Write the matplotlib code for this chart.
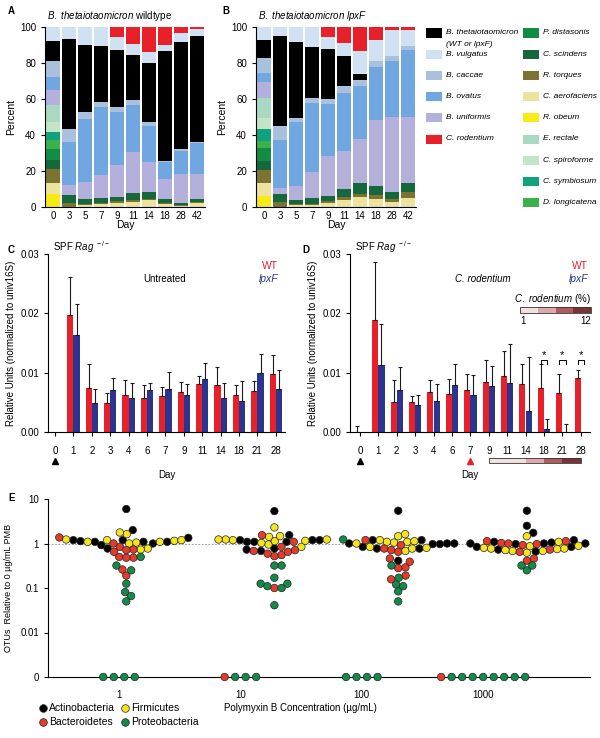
import numpy as np
import matplotlib.pyplot as plt
from matplotlib.patches import Rectangle
from matplotlib.lines import Line2D

# ---- panel A/B: relative abundance (%) per day ----
days_ab = [0, 3, 5, 7, 9, 11, 14, 18, 28, 42]

wt_obeum = [7.4, 0, 0, 0, 0, 0, 0, 0, 0, 0]
wt_aerofaciens = [6.2, 0, 1.3, 1.5, 2.2, 2.8, 3.7, 1.5, 0.7, 2.0]
wt_torques = [7.4, 2.2, 0.6, 0.7, 1.0, 1.3, 0.9, 0.9, 0.6, 1.0]
wt_scindens = [5.0, 4.7, 2.7, 3.0, 2.4, 3.9, 3.8, 1.9, 0.9, 1.5]
wt_distasonis = [6.5, 0, 0, 0, 0, 0, 0, 0, 0, 0]
wt_longicatena = [4.7, 0, 0, 0, 0, 0, 0, 0, 0, 0]
wt_symbiosum = [4.6, 0, 0, 0, 0, 0, 0, 0, 0, 0]
wt_spiroforme = [5.2, 0, 0, 0, 0, 0, 0, 0, 0, 0]
wt_rectale = [9.7, 0, 0, 0, 0, 0, 0, 0, 0, 0]
wt_uniformis = [8.4, 5.2, 9.3, 12.8, 17.6, 22.3, 16.7, 11.1, 16.4, 14.1]
wt_ovatus = [7.0, 24.2, 35.0, 37.4, 29.8, 26.4, 19.9, 9.7, 12.6, 16.8]
wt_caccae = [8.8, 6.9, 4.1, 3.2, 2.8, 2.8, 2.4, 0.3, 0.8, 0.5]
wt_theta = [11.1, 49.9, 37.2, 31.0, 31.6, 25.1, 32.5, 61.5, 59.4, 59.0]
wt_vulgatus = [8.0, 6.9, 9.8, 10.4, 7.0, 5.9, 6.0, 3.2, 5.3, 4.2]
wt_rodentium = [0, 0, 0, 0, 5.6, 9.5, 14.1, 9.9, 3.3, 0.9]

lpx_obeum = [6.1, 0, 0, 0, 0, 0, 0, 0, 0, 0]
lpx_aerofaciens = [7.5, 0, 0.9, 0.9, 2.4, 4.1, 5.6, 4.7, 2.8, 4.8]
lpx_torques = [6.9, 2.8, 0.6, 1.0, 0.8, 1.5, 1.8, 1.8, 1.9, 3.3]
lpx_scindens = [5.2, 4.3, 2.6, 3.1, 2.9, 4.6, 6.2, 5.2, 3.7, 5.0]
lpx_distasonis = [6.9, 0, 0, 0, 0, 0, 0, 0, 0, 0]
lpx_longicatena = [4.1, 0, 0, 0, 0, 0, 0, 0, 0, 0]
lpx_symbiosum = [6.5, 0, 0, 0, 0, 0, 0, 0, 0, 0]
lpx_spiroforme = [6.0, 0, 0, 0, 0, 0, 0, 0, 0, 0]
lpx_rectale = [11.1, 0, 0, 0, 0, 0, 0, 0, 0, 0]
lpx_uniformis = [8.9, 3.7, 7.6, 14.5, 22.2, 20.9, 24.2, 36.7, 41.8, 37.1]
lpx_ovatus = [5.2, 26.4, 35.6, 38.2, 29.0, 32.2, 29.2, 29.2, 31.1, 37.0]
lpx_caccae = [8.4, 7.8, 2.4, 3.1, 2.8, 3.7, 3.7, 3.3, 2.8, 2.4]
lpx_theta = [9.8, 49.9, 42.0, 27.9, 27.7, 16.7, 3.2, 0.4, 0, 0]
lpx_vulgatus = [7.4, 5.1, 8.3, 11.3, 6.7, 7.5, 12.6, 11.7, 14.5, 8.7]
lpx_rodentium = [0, 0, 0, 0, 5.5, 8.8, 13.5, 7.0, 1.4, 1.7]

# ---- panel C/D: qPCR relative units ----
days_q = [0, 1, 2, 3, 4, 6, 7, 9, 11, 14, 18, 21, 28]
wt_c = [0, 0.0198, 0.0074, 0.0049, 0.0063, 0.0058, 0.0060, 0.0067, 0.0081, 0.0080, 0.0062, 0.0069, 0.0098]
wt_c_err = [0, 0.0064, 0.0041, 0.0017, 0.0024, 0.0021, 0.0016, 0.0017, 0.0013, 0.0029, 0.0017, 0.0017, 0.0032]
lpx_c = [0, 0.0164, 0.0049, 0.0071, 0.0057, 0.0070, 0.0073, 0.0063, 0.0090, 0.0058, 0.0053, 0.0099, 0.0072]
lpx_c_err = [0, 0.0052, 0.0023, 0.0020, 0.0025, 0.0012, 0.0028, 0.0018, 0.0026, 0.0024, 0.0033, 0.0033, 0.0033]
wt_d = [0, 0.0189, 0.0050, 0.0050, 0.0068, 0.0064, 0.0070, 0.0085, 0.0095, 0.0081, 0.0075, 0.0066, 0.0091]
wt_d_err = [0.0010, 0.0098, 0.0037, 0.0010, 0.0019, 0.0025, 0.0028, 0.0037, 0.0041, 0.0033, 0.0040, 0.0032, 0.0014]
lpx_d = [0, 0.0113, 0.0071, 0.0046, 0.0053, 0.0080, 0.0063, 0.0077, 0.0082, 0.0036, 0.0005, 0.0, 0.0]
lpx_d_err = [0, 0.0069, 0.0039, 0.0016, 0.0028, 0.0034, 0.0033, 0.0035, 0.0067, 0.0090, 0.0017, 0.0014, 0]
sig_days = [18, 21, 28]
strip_days = [9, 14, 18, 21, 28]

# ---- panel E: OTU fold change vs 0 ug/mL PMB ----
pmb_conc = ['1', '10', '100', '1000']
act = [[1.0, 1.19, 1.09, 1.34, 1.09, 2.0, 5.95, 0.77, 1.19, 0.92, 1.09, 1.13],
       [1.19, 1.19, 1.09, 0.77, 1.19, 0.73, 5.35, 1.54, 1.09, 0.68, 1.09],
       [1.0, 0.84, 0.77, 0.41, 1.19, 5.45, 0.97, 1.0, 1.19, 0.77, 1.0, 0.97],
       [1.0, 1.0, 1.74, 1.19, 5.45, 2.5, 1.09, 1.0, 0.97, 0.84, 0.84, 1.05, 0.66, 0.73]]
fir = [[1.05, 1.19, 1.09, 1.62, 1.77, 1.09, 0.77, 1.23, 0.73, 1.15, 1.19, 1.0],
       [1.41, 0.95, 1.13, 0.84, 1.19, 2.3, 1.23, 1.03, 1.15, 1.23, 1.23, 1.46],
       [1.05, 0.84, 1.09, 1.13, 0.80, 1.0, 0.68, 1.46, 1.62, 0.77, 1.09, 1.19],
       [0.87, 0.68, 0.89, 0.77, 1.09, 0.77, 0.68, 1.46, 0.80, 0.75, 0.62, 0.71]]
bac = [[0.84, 1.0, 1.37, 0.73, 0.50, 0.65, 0.48, 0.26, 0.19, 0.48, 0.71],
       [0.68, 0.71, 0.55, 0.52, 0.84, 0.65, 1.54, 0.59, 0.10, 1.09],
       [0.92, 0.71, 0.77, 1.19, 0.65, 0.46, 0.39, 0.29, 0.28, 0.19, 0.157],
       [1.13, 0.73, 1.03, 1.13, 0.97, 0.92, 1.0, 0.65, 0.46, 0.41]]
pro = [[0.32, 0.50, 0.25, 0.125, 0.081, 0.066, 0.050],
       [0.32, 0.32, 0.17, 0.125, 0.10, 0.11, 0.125, 0.041],
       [1.23, 0.32, 0.17, 0.12, 0.11, 0.084, 0.050],
       [0.25, 0.32, 0.32]]
zero_bac = [0, 1, 0, 1]
zero_pro = [4, 3, 4, 8]

plt.rcParams['font.family'] = ['Liberation Sans', 'DejaVu Sans']
plt.rcParams['font.size'] = 7
plt.rcParams['mathtext.fontset'] = 'custom'
plt.rcParams['mathtext.rm'] = 'Liberation Sans'
plt.rcParams['mathtext.it'] = 'Liberation Sans:italic'
plt.rcParams['mathtext.bf'] = 'Liberation Sans:bold'
plt.rcParams['axes.linewidth'] = 0.8

RED = '#e8202a'
BLUE = '#2b3590'
colors = {
    'R. obeum': '#f7ea17', 'C. aerofaciens': '#eee39c', 'R. torques': '#7b7431',
    'C. scindens': '#15683b', 'P. distasonis': '#128c45', 'D. longicatena': '#3bb04b',
    'C. symbiosum': '#0fa27c', 'C. spiroforme': '#c2e5c6', 'E. rectale': '#a9d9c3',
    'B. uniformis': '#b3b1dc', 'B. ovatus': '#70a7e1', 'B. caccae': '#a9c1dc',
    'B. thetaiotaomicron': '#000000', 'B. vulgatus': '#d0e1f4', 'C. rodentium': RED,
}

W, H = 600, 738
fig = plt.figure(figsize=(W / 100, H / 100), dpi=100)


def px_axes(l, t, r, b):
    return fig.add_axes([l / W, 1 - b / H, (r - l) / W, (b - t) / H])


def ftext(x, y, s, **kw):
    return fig.text(x / W, 1 - y / H, s, **kw)


def clean(ax):
    for s in ['top', 'right']:
        ax.spines[s].set_visible(False)
    ax.tick_params(width=0.8, length=3, labelsize=7)


# ---------- A and B ----------
def stacked(ax, cols):
    x = np.arange(len(days_ab))
    bottom = np.zeros(len(x))
    for name, vals in cols:
        ax.bar(x, vals, bottom=bottom, width=0.92, color=colors[name], linewidth=0)
        bottom += np.array(vals)
    ax.set_xlim(-0.5, len(x) - 0.5)
    ax.set_ylim(0, 100)
    ax.set_yticks([0, 20, 40, 60, 80, 100])
    ax.set_xticks(x, [str(d) for d in days_ab])
    clean(ax)
    ax.tick_params(axis='x', length=0, pad=3)
    ax.set_ylabel('Percent', fontsize=7.5, labelpad=3)


wt_cols = [('R. obeum', wt_obeum), ('C. aerofaciens', wt_aerofaciens), ('R. torques', wt_torques),
           ('C. scindens', wt_scindens), ('P. distasonis', wt_distasonis), ('D. longicatena', wt_longicatena),
           ('C. symbiosum', wt_symbiosum), ('C. spiroforme', wt_spiroforme), ('E. rectale', wt_rectale),
           ('B. uniformis', wt_uniformis), ('B. ovatus', wt_ovatus), ('B. caccae', wt_caccae),
           ('B. thetaiotaomicron', wt_theta), ('B. vulgatus', wt_vulgatus), ('C. rodentium', wt_rodentium)]
lpx_cols = [('R. obeum', lpx_obeum), ('C. aerofaciens', lpx_aerofaciens), ('R. torques', lpx_torques),
            ('C. scindens', lpx_scindens), ('P. distasonis', lpx_distasonis), ('D. longicatena', lpx_longicatena),
            ('C. symbiosum', lpx_symbiosum), ('C. spiroforme', lpx_spiroforme), ('E. rectale', lpx_rectale),
            ('B. uniformis', lpx_uniformis), ('B. ovatus', lpx_ovatus), ('B. caccae', lpx_caccae),
            ('B. thetaiotaomicron', lpx_theta), ('B. vulgatus', lpx_vulgatus), ('C. rodentium', lpx_rodentium)]

axA = px_axes(45, 27, 205, 207)
stacked(axA, wt_cols)
axB = px_axes(256, 27, 416, 207)
stacked(axB, lpx_cols)
ftext(125, 225, 'Day', ha='center', va='center', fontsize=7.5)
ftext(336, 225, 'Day', ha='center', va='center', fontsize=7.5)
ftext(47, 16, r'$\it{B.\ thetaiotaomicron}$ wildtype', fontsize=7, va='center')
ftext(258, 16, r'$\it{B.\ thetaiotaomicron\ lpxF}$', fontsize=7, va='center')

# legend
col1 = ['B. thetaiotaomicron', 'B. vulgatus', 'B. caccae', 'B. ovatus', 'B. uniformis', 'C. rodentium']
col2 = ['P. distasonis', 'C. scindens', 'R. torques', 'C. aerofaciens', 'R. obeum',
        'E. rectale', 'C. spiroforme', 'C. symbiosum', 'D. longicatena']
for cx, names in [(426, col1), (523, col2)]:
    for i, name in enumerate(names):
        cy = 33 + i * 21.2
        fig.add_artist(Rectangle((cx / W, 1 - (cy + 4.5) / H), 16 / W, 9 / H,
                                 transform=fig.transFigure, color=colors[name], lw=0))
        ftext(cx + 20, cy, name, style='italic', fontsize=6.0, va='center')
ftext(446, 44, '(WT or lpxF)', style='italic', fontsize=6.0, va='center')

# ---------- C and D ----------
def qpcr(ax, wt, wt_e, lpx, lpx_e, xl):
    x = np.arange(len(days_q))
    ax.bar(x - 0.17, wt, 0.33, color=RED, lw=0)
    ax.bar(x + 0.17, lpx, 0.33, color=BLUE, lw=0)
    for off, v, e in [(-0.17, wt, wt_e), (0.17, lpx, lpx_e)]:
        v, e = np.array(v), np.array(e)
        m = e > 0
        ax.errorbar(x[m] + off, v[m], yerr=[np.zeros(m.sum()), e[m]], fmt='none',
                    ecolor='#1a1a1a', elinewidth=0.8, capsize=1.5, capthick=0.8)
    ax.set_xlim(*xl)
    ax.set_ylim(0, 0.03)
    ax.set_yticks([0, 0.01, 0.02, 0.03], ['0.00', '0.01', '0.02', '0.03'])
    ax.set_xticks(x, [str(d) for d in days_q])
    clean(ax)
    ax.tick_params(axis='x', pad=7)
    ax.set_ylabel('Relative Units (normalized to univ16S)', fontsize=7, labelpad=3)
    ax.plot([0], [-0.165], marker='^', color='black', ms=5, transform=ax.get_xaxis_transform(),
            clip_on=False)


axC = px_axes(48, 254, 285, 432)
qpcr(axC, wt_c, wt_c_err, lpx_c, lpx_c_err, (-0.38, 12.5))
axD = px_axes(350, 254, 590, 432)
qpcr(axD, wt_d, wt_d_err, lpx_d, lpx_d_err, (-0.54, 12.5))

for cx in [53, 355]:
    ftext(cx, 247, r'SPF $\it{Rag}^{\ -/-}$', fontsize=7, va='center')
ftext(165, 279, 'Untreated', ha='center', va='center', fontsize=7)
ftext(483, 279, 'C. rodentium', style='italic', ha='center', va='center', fontsize=7)
for rx in [278, 588]:
    ftext(rx, 266, 'WT', color=RED, ha='right', va='center', fontsize=7.5)
    ftext(rx, 279, 'lpxF', color=BLUE, style='italic', ha='right', va='center', fontsize=7.5)
ftext(167, 475, 'Day', ha='center', va='center', fontsize=7)
ftext(470, 475, 'Day', ha='center', va='center', fontsize=7)

# red arrow at day 7 and C. rodentium strip under D
axD.plot([days_q.index(7)], [-0.165], marker='^', color=RED, ms=5,
         transform=axD.get_xaxis_transform(), clip_on=False)
shades = ['#f4dfdf', '#dcaaaa', '#b05c5c', '#7a3434']
for k in range(len(strip_days) - 1):
    x0 = days_q.index(strip_days[k])
    x1 = days_q.index(strip_days[k + 1])
    axD.add_patch(Rectangle((x0, -0.145), x1 - x0, -0.03, transform=axD.get_xaxis_transform(),
                            facecolor=shades[k], edgecolor='none', clip_on=False))
x0, x1 = days_q.index(strip_days[0]), days_q.index(strip_days[-1])
axD.add_patch(Rectangle((x0, -0.145), x1 - x0, -0.03, transform=axD.get_xaxis_transform(),
                        facecolor='none', edgecolor='#333333', lw=0.6, clip_on=False))

# legend strip for C. rodentium (%)
for k, c in enumerate(shades):
    fig.add_artist(Rectangle(((520 + k * 17.75) / W, 1 - 313 / H), 17.75 / W, 6 / H,
                             transform=fig.transFigure, facecolor=c, edgecolor='none'))
fig.add_artist(Rectangle((520 / W, 1 - 313 / H), 71 / W, 6 / H, transform=fig.transFigure,
                         facecolor='none', edgecolor='#333333', lw=0.6))
ftext(591, 299, r'$\it{C.\ rodentium}$ (%)', ha='right', va='center', fontsize=7)
ftext(523, 321, '1', ha='center', va='center', fontsize=7)
ftext(586, 321, '12', ha='center', va='center', fontsize=7)

# significance brackets
for d in sig_days:
    i = days_q.index(d)
    axD.plot([i - 0.17, i - 0.17, i + 0.17, i + 0.17], [0.0115, 0.0122, 0.0122, 0.0115],
             color='black', lw=0.7)
    axD.text(i, 0.01205, '*', ha='center', va='bottom', fontsize=8)

# ---------- E ----------
PX_DEC = 44.5
PX_UNIT = 121.3
shift = [0.06, 0.28, 0.30, 0.36]


def swarm(ypx, d):
    order = np.argsort(ypx)
    xs = np.zeros(len(ypx))
    placed = []
    for i in order:
        y = ypx[i]
        cands = [0.0]
        for xj, yj in placed:
            dy = abs(y - yj)
            if dy < d:
                dx = np.sqrt(d * d - dy * dy)
                cands += [xj + dx, xj - dx]
        cands.sort(key=abs)
        for c in cands:
            if all((c - xj) ** 2 + (y - yj) ** 2 >= d * d - 1e-6 for xj, yj in placed):
                xs[i] = c
                break
        placed.append((xs[i], y))
    return xs


axE = px_axes(48, 499, 590, 677)
axE.set_yscale('log')
axE.set_ylim(1e-3, 10)
axE.set_xlim(-0.585, 3.88)
axE.axhline(1, color='#888888', lw=0.6, ls=(0, (2, 2)), zorder=0)
pcol = {'act': '#000000', 'fir': '#f6e51e', 'bac': '#e63b2a', 'pro': '#148a4a'}
ms = 29
for g in range(len(pmb_conc)):
    vals = np.array(act[g] + fir[g] + bac[g] + pro[g])
    cols = ([pcol['act']] * len(act[g]) + [pcol['fir']] * len(fir[g]) +
            [pcol['bac']] * len(bac[g]) + [pcol['pro']] * len(pro[g]))
    xo = swarm(PX_DEC * np.log10(vals), 7.2) / PX_UNIT + g + shift[g]
    axE.scatter(xo, vals, s=ms, c=cols, edgecolors='#222222', linewidths=0.5, zorder=3)
    zc = [pcol['bac']] * zero_bac[g] + [pcol['pro']] * zero_pro[g]
    n = len(zc)
    zx = g + (np.arange(n) - (n - 1) / 2) * 10.5 / PX_UNIT
    axE.scatter(zx, np.full(n, 1e-3), s=ms, c=zc, edgecolors='#222222', linewidths=0.5,
                zorder=3, clip_on=False)
axE.set_yticks([1e-3, 1e-2, 0.1, 1, 10], ['0', '0.01', '0.1', '1', '10'])
axE.minorticks_off()
axE.set_xticks(range(len(pmb_conc)), pmb_conc)
clean(axE)
axE.tick_params(axis='x', length=0, pad=9)
axE.set_ylabel('OTUs  Relative to 0 µg/mL PMB', fontsize=6.5, labelpad=5)
ftext(300, 708, 'Polymyxin B Concentration (µg/mL)', ha='center', va='center', fontsize=7)

for (lx, ly, key, name) in [(43, 708, 'act', 'Actinobacteria'), (43, 722, 'bac', 'Bacteroidetes'),
                            (125, 708, 'fir', 'Firmicutes'), (125, 722, 'pro', 'Proteobacteria')]:
    fig.add_artist(Line2D([lx / W], [1 - ly / H], marker='o', ms=5.5, color=pcol[key],
                          mec='#222222', mew=0.5, transform=fig.transFigure))
    ftext(lx + 6, ly, name, va='center', fontsize=7.5)

# panel letters
for x, y, s in [(8, 11, 'A'), (222, 11, 'B'), (8, 250, 'C'), (302, 250, 'D'), (8, 498, 'E')]:
    ftext(x, y, s, fontweight='bold', fontsize=7, va='center')

fig.savefig('out.png', dpi=100)
